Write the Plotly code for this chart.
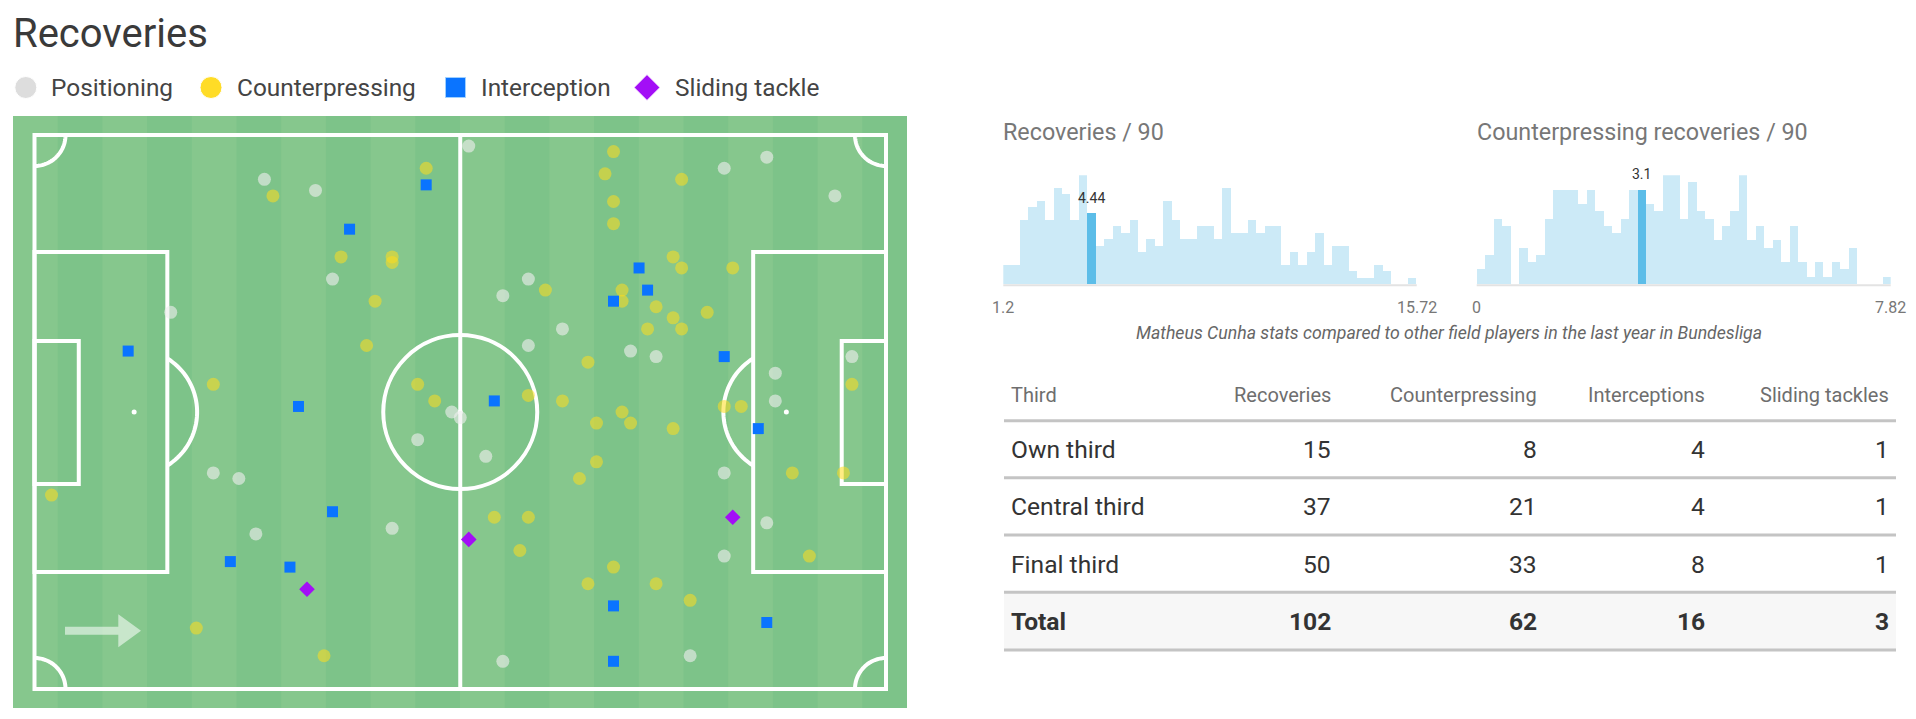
import numpy as np
import plotly.graph_objects as go

W, H = 1916, 719
FONT = "Roboto"

# ---------------- data ----------------
# pitch events, Wyscout-style coordinates (0-100, y measured from top touchline)
pos_x = [27, 33, 35, 16, 49, 50, 51, 86, 81, 94, 58, 55, 62, 58, 70, 73, 96, 87, 87, 45,
         21, 24, 26, 42, 53, 81, 86, 81, 55, 77]
pos_y = [8, 10, 26, 32, 50, 51, 2, 4, 6, 11, 26, 29, 35, 38, 39, 40, 40, 43, 48, 55,
         61, 62, 72, 71, 58, 61, 70, 76, 95, 94]
cp_x = [46, 28, 36, 42, 42, 40, 39, 21, 45, 47, 68, 67, 76, 68, 68, 75, 76, 82, 60, 69,
        69, 73, 79, 75, 72, 76, 65, 58, 62, 69, 81, 83, 96, 2, 19, 34, 66, 70, 75, 66,
        64, 54, 58, 57, 68, 65, 73, 77, 89, 95, 91]
cp_y = [6, 11, 22, 22, 23, 30, 38, 45, 45, 48, 3, 7, 8, 12, 16, 22, 24, 24, 28, 28,
        30, 31, 32, 33, 35, 35, 41, 47, 48, 50, 49, 49, 45, 65, 89, 94, 52, 52, 53, 59,
        62, 69, 69, 75, 78, 81, 81, 84, 61, 61, 76]
int_x = [46, 37, 11, 31, 71, 72, 68, 81, 54, 35, 23, 30, 85, 68, 86, 68]
int_y = [9, 17, 39, 49, 24, 28, 30, 40, 48, 68, 77, 78, 53, 85, 88, 95]
sl_x = [32, 51, 82]
sl_y = [82, 73, 69]

# histograms (player counts per bin)
rec_min, rec_max, rec_val = 1.2, 15.72, 4.44
rec_counts = [3, 3, 10, 12, 13, 10, 15, 14, 10, 17, 11, 6, 7, 9, 8, 10, 5, 7, 6, 13,
              10, 7, 7, 9, 9, 7, 15, 8, 8, 10, 8, 9, 9, 3, 5, 3, 5, 8, 3, 6,
              6, 2, 1, 1, 3, 2, 0, 0, 1]
cpr_min, cpr_max, cpr_val = 0.0, 7.82, 3.1
cpr_counts = [2, 4, 9, 8, 0, 5, 3, 4, 9, 13, 13, 13, 11, 13, 10, 8, 7, 9, 13, 13,
              11, 10, 15, 15, 9, 14, 10, 9, 6, 8, 10, 15, 6, 8, 5, 6, 3, 8, 3, 1,
              3, 1, 3, 2, 5, 0, 0, 0, 1]

# table
tbl_header = ["Third", "Recoveries", "Counterpressing", "Interceptions", "Sliding tackles"]
tbl_rows = ["Own third", "Central third", "Final third"]
tbl_recoveries = [15, 37, 50]
tbl_counterpressing = [8, 21, 33]
tbl_interceptions = [4, 4, 8]
tbl_sliding = [1, 1, 1]

# ---------------- helpers ----------------
def PX(x):
    return x / W


def PY(y):
    return 1 - y / H


# pitch pixel geometry
LX0, LX1, LY0, LY1 = 34.5, 886.0, 135.0, 689.0      # touchlines
GX0, GX1, GY0, GY1 = 13.0, 907.0, 116.0, 708.0      # green area
sx = (LX1 - LX0) / 100.0
sy = (LY1 - LY0) / 100.0


def dx(px):
    return (px - LX0) / sx


def dy(py):
    return (py - LY0) / sy


fig = go.Figure()

# ---------------- pitch ----------------
LINE = dict(color="white", width=4)
shapes = []
shapes.append(dict(type="rect", xref="x", yref="y", layer="below",
                   x0=dx(GX0), x1=dx(GX1), y0=dy(GY0), y1=dy(GY1),
                   line=dict(width=0), fillcolor="#7DC389"))
nstr = 20
sw = (GX1 - GX0) / nstr
for i in range(0, nstr, 2):
    shapes.append(dict(type="rect", xref="x", yref="y", layer="below",
                       x0=dx(GX0 + i * sw), x1=dx(GX0 + (i + 1) * sw),
                       y0=dy(GY0), y1=dy(GY1), line=dict(width=0),
                       fillcolor="#86C78D"))

def seg(x0, y0, x1, y1):
    shapes.append(dict(type="line", xref="x", yref="y", layer="below",
                       x0=x0, y0=y0, x1=x1, y1=y1, line=LINE))

def box(x0, y0, x1, y1):
    shapes.append(dict(type="rect", xref="x", yref="y", layer="below",
                       x0=x0, y0=y0, x1=x1, y1=y1, line=LINE,
                       fillcolor="rgba(0,0,0,0)"))

def arc(cx, cy, rpx, a0, a1):
    t = np.linspace(np.radians(a0), np.radians(a1), 40)
    xs = cx + rpx / sx * np.cos(t)
    ys = cy + rpx / sy * np.sin(t)
    p = "M " + " L ".join(f"{a:.4f},{b:.4f}" for a, b in zip(xs, ys))
    shapes.append(dict(type="path", xref="x", yref="y", layer="below",
                       path=p, line=LINE))

def dot(cx, cy, rpx, color="white"):
    shapes.append(dict(type="circle", xref="x", yref="y", layer="below",
                       x0=cx - rpx / sx, x1=cx + rpx / sx,
                       y0=cy - rpx / sy, y1=cy + rpx / sy,
                       line=dict(width=0), fillcolor=color))

box(0, 0, 100, 100)
seg(50, 0, 50, 100)
# centre circle
R = 77
shapes.append(dict(type="circle", xref="x", yref="y", layer="below",
                   x0=50 - R / sx, x1=50 + R / sx, y0=50 - R / sy, y1=50 + R / sy,
                   line=LINE, fillcolor="rgba(0,0,0,0)"))
dot(50, 50, 2.5)
# penalty areas
pb, sb, spot = 15.6, 5.2, 11.7
box(0, 21.1, pb, 78.9)
box(100 - pb, 21.1, 100, 78.9)
box(0, 37.2, sb, 63.0)
box(100 - sb, 37.2, 100, 63.0)
dot(spot, 50, 2.5)
dot(100 - spot, 50, 2.5)
ra = 63.0
ang = np.degrees(np.arccos((pb - spot) * sx / ra))
arc(spot, 50, ra, -ang, ang)
arc(100 - spot, 50, ra, 180 - ang, 180 + ang)
# corners
rc = 31
arc(0, 0, rc, 0, 90)
arc(100, 0, rc, 90, 180)
arc(0, 100, rc, 270, 360)
arc(100, 100, rc, 180, 270)
# direction arrow
ap = [(65, 626.7), (118.3, 626.7), (118.3, 614.3), (141, 630.7), (118.3, 647.3),
      (118.3, 634.7), (65, 634.7)]
shapes.append(dict(type="path", xref="x", yref="y", layer="below",
                   path="M " + " L ".join(f"{dx(a):.4f},{dy(b):.4f}" for a, b in ap) + " Z",
                   fillcolor="rgba(255,255,255,0.55)", line=dict(width=0)))

fig.add_trace(go.Scatter(x=pos_x, y=pos_y, mode="markers", xaxis="x", yaxis="y",
                         marker=dict(symbol="circle", size=13, color="#EEEEEE", opacity=0.62,
                                     line=dict(width=0)), hoverinfo="skip"))
fig.add_trace(go.Scatter(x=cp_x, y=cp_y, mode="markers", xaxis="x", yaxis="y",
                         marker=dict(symbol="circle", size=13, color="#FFDC1E", opacity=0.55,
                                     line=dict(width=0)), hoverinfo="skip"))
fig.add_trace(go.Scatter(x=int_x, y=int_y, mode="markers", xaxis="x", yaxis="y",
                         marker=dict(symbol="square", size=11, color="#0A74FF",
                                     line=dict(width=0)), hoverinfo="skip"))
fig.add_trace(go.Scatter(x=sl_x, y=sl_y, mode="markers", xaxis="x", yaxis="y",
                         marker=dict(symbol="diamond", size=12, color="#A30EF6",
                                     line=dict(width=0)), hoverinfo="skip"))

# ---------------- histograms ----------------
def hist(counts, vmin, vmax, val, xa, ya):
    n = len(counts)
    bw = (vmax - vmin) / n
    centers = [vmin + (i + 0.5) * bw for i in range(n)]
    hi = min(int((val - vmin) / bw), n - 1)
    colors = ["#5CBDE8" if i == hi else "#CCEAF7" for i in range(n)]
    fig.add_trace(go.Bar(x=centers, y=counts, width=bw, xaxis=xa, yaxis=ya,
                         marker=dict(color=colors, line=dict(width=0)),
                         hoverinfo="skip"))
    return centers[hi], counts[hi]

h1x, h1y = hist(rec_counts, rec_min, rec_max, rec_val, "x2", "y2")
h2x, h2y = hist(cpr_counts, cpr_min, cpr_max, cpr_val, "x3", "y3")

HB, HT = 284.3, 175.3
H1L, H1R = 1003.3, 1416.7
H2L, H2R = 1476.7, 1890.7

ann = []
def text(x, y, s, size, color, xanchor="left", bold=False, italic=False, xref="paper", yref="paper"):
    if bold:
        s = "<b>" + s + "</b>"
    if italic:
        s = "<i>" + s + "</i>"
    ann.append(dict(x=x, y=y, xref=xref, yref=yref, text=s, showarrow=False,
                    xanchor=xanchor, yanchor="middle",
                    font=dict(family=FONT, size=size, color=color)))

for (l, r) in [(H1L, H1R), (H2L, H2R)]:
    shapes.append(dict(type="line", xref="paper", yref="paper",
                       x0=PX(l), x1=PX(r), y0=PY(HB + 1), y1=PY(HB + 1),
                       line=dict(color="#E3E3E3", width=2), layer="below"))

ann.append(dict(x=h1x, y=h1y, xref="x2", yref="y2", text=f"{rec_val}", showarrow=False,
                yanchor="bottom", yshift=6, font=dict(family=FONT, size=14, color="#333333")))
ann.append(dict(x=h2x, y=h2y, xref="x3", yref="y3", text=f"{cpr_val}", showarrow=False,
                yanchor="bottom", yshift=6, font=dict(family=FONT, size=14, color="#333333")))

text(PX(H1L), PY(307), f"{rec_min}", 16, "#777777", "center")
text(PX(H1R), PY(307), f"{rec_max}", 16, "#777777", "center")
text(PX(H2L), PY(307), f"{cpr_min:g}", 16, "#777777", "center")
text(PX(H2R), PY(307), f"{cpr_max}", 16, "#777777", "center")

text(PX(1001), PY(132), "Recoveries / 90", 23.3, "#777777")
text(PX(1475), PY(132), "Counterpressing recoveries / 90", 23.3, "#777777")
text(PX(1449), PY(333),
     "Matheus Cunha stats compared to other field players in the last year in Bundesliga",
     17.7, "#666666", "center", italic=True)

# ---------------- title & legend ----------------
text(PX(11), PY(33), "Recoveries", 40, "#3A3A3A")

LEGY = 87.5
def lshape(kind, cx, half, color):
    if kind == "circle":
        shapes.append(dict(type="circle", xref="paper", yref="paper",
                           x0=PX(cx - half), x1=PX(cx + half), y0=PY(LEGY + half), y1=PY(LEGY - half),
                           fillcolor=color, line=dict(color="white", width=1)))
    elif kind == "square":
        shapes.append(dict(type="rect", xref="paper", yref="paper",
                           x0=PX(cx - half), x1=PX(cx + half), y0=PY(LEGY + half), y1=PY(LEGY - half),
                           fillcolor=color, line=dict(color="#9FD0FF", width=1)))
    else:
        pts = [(cx, LEGY - half), (cx + half, LEGY), (cx, LEGY + half), (cx - half, LEGY)]
        shapes.append(dict(type="path", xref="paper", yref="paper",
                           path="M " + " L ".join(f"{PX(a):.6f},{PY(b):.6f}" for a, b in pts) + " Z",
                           fillcolor=color, line=dict(color="white", width=1)))

legend_items = [("circle", 25.8, 11, "#DDDDDD", 49.0, "Positioning"),
                ("circle", 211.0, 11, "#FFDC26", 235.0, "Counterpressing"),
                ("square", 455.5, 10, "#0A74FF", 479.0, "Interception"),
                ("diamond", 647.0, 13, "#A30EF6", 673.0, "Sliding tackle")]
for kind, cx, half, col, tx, lab in legend_items:
    lshape(kind, cx, half, col)
    text(PX(tx), PY(LEGY), lab, 24.4, "#444444")

# ---------------- table ----------------
TL, TR = 1004, 1896
col_right = [1333, 1539, 1707.4, 1890.7]
row_y = [449.3, 506.7, 564.0]
tot_y = 621.7
shapes.append(dict(type="rect", xref="paper", yref="paper", x0=PX(TL), x1=PX(TR),
                   y0=PY(650), y1=PY(593), fillcolor="#F7F7F7", line=dict(width=0), layer="below"))
for yl, w in [(420.7, 3), (477.7, 3), (535.0, 3), (592.3, 3), (650.0, 3)]:
    shapes.append(dict(type="line", xref="paper", yref="paper", x0=PX(TL), x1=PX(TR),
                       y0=PY(yl), y1=PY(yl), line=dict(color="#C4C4C4", width=w)))

text(PX(1008.5), PY(395), tbl_header[0], 20, "#6E6E6E")
for cr, hname in zip(col_right, tbl_header[1:]):
    text(PX(cr), PY(395), hname, 20, "#6E6E6E", "right")

cols = [tbl_recoveries, tbl_counterpressing, tbl_interceptions, tbl_sliding]
for i, rname in enumerate(tbl_rows):
    text(PX(1008.5), PY(row_y[i]), rname, 24.6, "#333333")
    for cr, col in zip(col_right, cols):
        text(PX(cr), PY(row_y[i]), str(col[i]), 24.6, "#333333", "right")
text(PX(1008.5), PY(tot_y), "Total", 24.6, "#333333", bold=True)
for cr, col in zip(col_right, cols):
    text(PX(cr), PY(tot_y), str(sum(col)), 24.6, "#333333", "right", bold=True)

# ---------------- layout ----------------
noax = dict(visible=False, showgrid=False, zeroline=False, fixedrange=True)
fig.update_layout(
    width=W, height=H, margin=dict(l=0, r=0, t=0, b=0, pad=0),
    paper_bgcolor="white", plot_bgcolor="rgba(0,0,0,0)",
    showlegend=False, bargap=0,
    font=dict(family=FONT),
    xaxis=dict(domain=[PX(GX0), PX(GX1)], range=[dx(GX0), dx(GX1)], **noax),
    yaxis=dict(domain=[PY(GY1), PY(GY0)], range=[dy(GY1), dy(GY0)], **noax),
    xaxis2=dict(domain=[PX(H1L), PX(H1R)], range=[rec_min, rec_max], anchor="y2", **noax),
    yaxis2=dict(domain=[PY(HB), PY(HT)], range=[0, max(rec_counts)], anchor="x2", **noax),
    xaxis3=dict(domain=[PX(H2L), PX(H2R)], range=[cpr_min, cpr_max], anchor="y3", **noax),
    yaxis3=dict(domain=[PY(HB), PY(HT)], range=[0, max(cpr_counts)], anchor="x3", **noax),
    shapes=shapes, annotations=ann,
)

fig.write_html("out.html")
